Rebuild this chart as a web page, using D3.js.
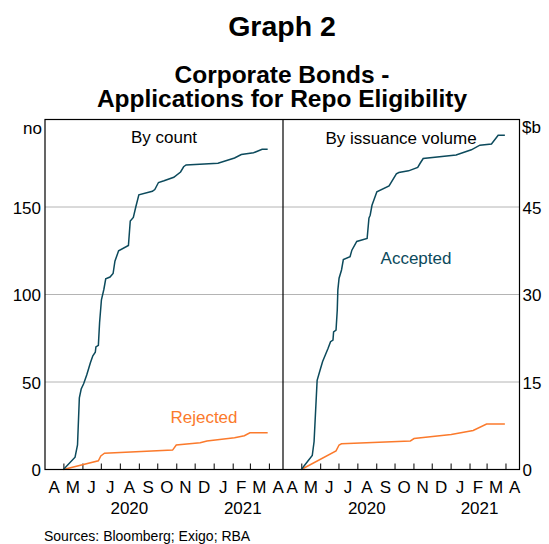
<!DOCTYPE html>
<head>
  <meta charset="utf-8">
  <script src="https://d3js.org/d3.v7.min.js"></script>
  <style>
    body { margin: 0; background: #fff; }
    svg { font-family: "Liberation Sans", Arial, sans-serif; }
    .grid line { stroke: #b4b4b4; stroke-width: 1px; }
    .line { fill: none; stroke-width: 1.5px; }
    .tick-lab { font-size: 17px; fill: #000; }
  </style>
</head>

<body>
  <script>
    // ---- data ----
    var countAccepted = [
      ["2020-05-01", 0], ["2020-05-20", 7], ["2020-05-24", 14], ["2020-05-27", 41],
      ["2020-05-30", 46], ["2020-06-03", 49], ["2020-06-08", 54], ["2020-06-14", 61],
      ["2020-06-18", 65], ["2020-06-22", 67], ["2020-06-23", 70], ["2020-06-27", 71],
      ["2020-06-29", 84], ["2020-07-02", 97], ["2020-07-06", 103], ["2020-07-09", 109],
      ["2020-07-16", 110], ["2020-07-21", 112], ["2020-07-24", 119], ["2020-07-30", 125],
      ["2020-08-15", 128], ["2020-08-18", 142], ["2020-08-23", 144], ["2020-08-27", 150],
      ["2020-09-01", 157], ["2020-09-23", 159], ["2020-09-27", 160], ["2020-10-03", 164],
      ["2020-10-12", 165], ["2020-10-28", 167], ["2020-11-08", 170], ["2020-11-13", 173],
      ["2020-11-17", 174], ["2021-01-08", 175], ["2021-02-04", 178], ["2021-02-15", 180],
      ["2021-03-07", 181], ["2021-03-21", 183], ["2021-03-30", 183]
    ];
    var countRejected = [
      ["2020-05-01", 0], ["2020-06-27", 5], ["2020-07-01", 7.7], ["2020-07-07", 9.3],
      ["2020-10-26", 11.1], ["2020-11-01", 14], ["2020-12-10", 15.3], ["2020-12-21", 16.3],
      ["2021-02-04", 18.2], ["2021-02-20", 19.3], ["2021-03-01", 21], ["2021-03-30", 21]
    ];
    var volumeAccepted = [
      ["2020-05-01", 0], ["2020-05-19", 2.4], ["2020-05-22", 4.8], ["2020-05-27", 15.3],
      ["2020-06-01", 17.1], ["2020-06-05", 18.5], ["2020-06-14", 20.8], ["2020-06-18", 21.9],
      ["2020-06-22", 22.2], ["2020-06-23", 23.6], ["2020-06-27", 23.9], ["2020-06-29", 27.3],
      ["2020-06-30", 30.8], ["2020-07-02", 32.8], ["2020-07-06", 34.2], ["2020-07-09", 36.0],
      ["2020-07-20", 36.5], ["2020-07-23", 37.6], ["2020-07-31", 39.1], ["2020-08-17", 39.6],
      ["2020-08-20", 43.1], ["2020-08-22", 43.6], ["2020-08-25", 45.3], ["2020-09-02", 47.6],
      ["2020-09-22", 48.6], ["2020-09-26", 49.3], ["2020-10-04", 50.7], ["2020-10-08", 50.9],
      ["2020-10-24", 51.2], ["2020-11-08", 51.8], ["2020-11-12", 52.5], ["2020-11-17", 53.3],
      ["2021-01-10", 53.9], ["2021-02-04", 54.8], ["2021-02-18", 55.6], ["2021-03-09", 55.8],
      ["2021-03-20", 57.3], ["2021-03-31", 57.3]
    ];
    var volumeRejected = [
      ["2020-05-01", 0], ["2020-06-27", 3.2], ["2020-07-02", 4.2], ["2020-07-06", 4.4],
      ["2020-10-27", 4.9], ["2020-11-02", 5.3], ["2021-01-02", 6.0], ["2021-02-07", 6.7],
      ["2021-03-01", 7.8], ["2021-03-31", 7.8]
    ];

    var monthLabels = ["A", "M", "J", "J", "A", "S", "O", "N", "D", "J", "F", "M", "A"];
    var yearLabels = [
      { text: "2020", from: "2020-04-01", to: "2021-01-01" },
      { text: "2021", from: "2021-01-01", to: "2021-04-06" }
    ];
    var leftTicks = [0, 50, 100, 150];
    var rightTicks = [0, 15, 30, 45];

    var blue = "#0c4a5c", orange = "#fb7a2c";

    // ---- layout ----
    var W = 549, H = 544;
    var plotTop = 119.5, plotBot = 469.5;
    var plotLeft = 45, plotMid = 283, plotRight = 519.5;

    var svg = d3.select("body").append("svg")
      .attr("width", W)
      .attr("height", H);

    var parse = d3.timeParse("%Y-%m-%d");
    var domain = [parse("2020-04-01"), parse("2021-04-24")];

    var xL = d3.scaleTime().domain(domain).range([plotLeft, plotMid]);
    var xR = d3.scaleTime().domain(domain).range([plotMid, plotRight]);
    var yL = d3.scaleLinear().domain([0, 200]).range([plotBot, plotTop]);
    var yR = d3.scaleLinear().domain([0, 60]).range([plotBot, plotTop]);

    // titles
    svg.append("text")
      .attr("x", 282).attr("y", 36)
      .attr("text-anchor", "middle")
      .style("font-size", "28.5px").style("font-weight", "bold")
      .text("Graph 2");
    svg.append("text")
      .attr("x", 282).attr("y", 83)
      .attr("text-anchor", "middle")
      .style("font-size", "24.5px").style("font-weight", "bold")
      .text("Corporate Bonds -");
    svg.append("text")
      .attr("x", 282).attr("y", 107)
      .attr("text-anchor", "middle")
      .style("font-size", "24.5px").style("font-weight", "bold")
      .text("Applications for Repo Eligibility");

    // gridlines (shared y positions)
    svg.append("g")
      .attr("class", "grid")
      .selectAll("line")
      .data(leftTicks.filter(function(d) { return d > 0; }))
      .enter().append("line")
      .attr("x1", plotLeft).attr("x2", plotRight)
      .attr("y1", function(d) { return yL(d); })
      .attr("y2", function(d) { return yL(d); });

    // y axes
    svg.append("g")
      .attr("transform", "translate(" + plotLeft + ",0)")
      .call(d3.axisLeft(yL).tickValues(leftTicks).tickSize(0).tickPadding(4))
      .call(function(g) {
        g.select(".domain").remove();
        g.selectAll("text").attr("class", "tick-lab").attr("dy", "0.36em")
          .style("font-size", "17px").attr("fill", "#000");
      });
    svg.append("g")
      .attr("transform", "translate(" + plotRight + ",0)")
      .call(d3.axisRight(yR).tickValues(rightTicks).tickSize(0).tickPadding(3))
      .call(function(g) {
        g.select(".domain").remove();
        g.selectAll("text").attr("class", "tick-lab").attr("dy", "0.36em")
          .style("font-size", "17px").attr("fill", "#000");
      });

    svg.append("text").attr("class", "tick-lab")
      .attr("x", 42).attr("y", 134).attr("text-anchor", "end").text("no");
    svg.append("text").attr("class", "tick-lab")
      .attr("x", 522).attr("y", 133).text("$b");

    // x axes: month ticks point upward, labels centred in each month
    [xL, xR].forEach(function(x) {
      svg.append("g")
        .attr("transform", "translate(0," + plotBot + ")")
        .call(d3.axisBottom(x)
          .ticks(d3.timeMonth.every(1))
          .tickSizeInner(-6).tickSizeOuter(0)
          .tickFormat(""))
        .call(function(g) {
          g.select(".domain").remove();
          g.selectAll(".tick line").attr("stroke", "#000");
          g.selectAll(".tick").filter(function(d) {
            return +d === +domain[0];
          }).remove();
        });

      svg.append("g")
        .selectAll("text")
        .data(monthLabels)
        .enter().append("text")
        .attr("class", "tick-lab")
        .attr("text-anchor", "middle")
        .attr("x", function(d, i) {
          var m0 = d3.timeMonth.offset(domain[0], i);
          var m1 = d3.timeMonth.offset(domain[0], i + 1);
          return (x(m0) + x(m1)) / 2;
        })
        .attr("y", 493)
        .text(function(d) { return d; });

      svg.append("g")
        .selectAll("text")
        .data(yearLabels)
        .enter().append("text")
        .attr("class", "tick-lab")
        .attr("text-anchor", "middle")
        .attr("x", function(d) { return (x(parse(d.from)) + x(parse(d.to))) / 2; })
        .attr("y", 514)
        .text(function(d) { return d.text; });
    });

    // series
    function drawLine(data, x, y, color) {
      var line = d3.line()
        .x(function(d) { return x(parse(d[0])); })
        .y(function(d) { return y(d[1]); });
      svg.append("path")
        .attr("class", "line")
        .attr("stroke", color)
        .attr("d", line(data));
    }
    drawLine(countRejected, xL, yL, orange);
    drawLine(countAccepted, xL, yL, blue);
    drawLine(volumeRejected, xR, yR, orange);
    drawLine(volumeAccepted, xR, yR, blue);

    // frame
    svg.append("rect")
      .attr("x", plotLeft).attr("y", plotTop)
      .attr("width", plotRight - plotLeft).attr("height", plotBot - plotTop)
      .attr("fill", "none").attr("stroke", "#000").attr("stroke-width", 1.2);
    svg.append("line")
      .attr("x1", plotMid).attr("x2", plotMid)
      .attr("y1", plotTop).attr("y2", plotBot)
      .attr("stroke", "#000").attr("stroke-width", 1.2);

    // panel titles and series labels
    svg.append("text").attr("class", "tick-lab")
      .attr("x", 164).attr("y", 143).attr("text-anchor", "middle").text("By count");
    svg.append("text").attr("class", "tick-lab")
      .attr("x", 401).attr("y", 144).attr("text-anchor", "middle").text("By issuance volume");
    svg.append("text").attr("class", "tick-lab")
      .attr("x", 416).attr("y", 264).attr("text-anchor", "middle")
      .style("fill", blue).text("Accepted");
    svg.append("text").attr("class", "tick-lab")
      .attr("x", 204).attr("y", 423).attr("text-anchor", "middle")
      .style("fill", orange).text("Rejected");

    svg.append("text")
      .attr("x", 44).attr("y", 541)
      .style("font-size", "14px")
      .text("Sources: Bloomberg; Exigo; RBA");
  </script>
</body>
